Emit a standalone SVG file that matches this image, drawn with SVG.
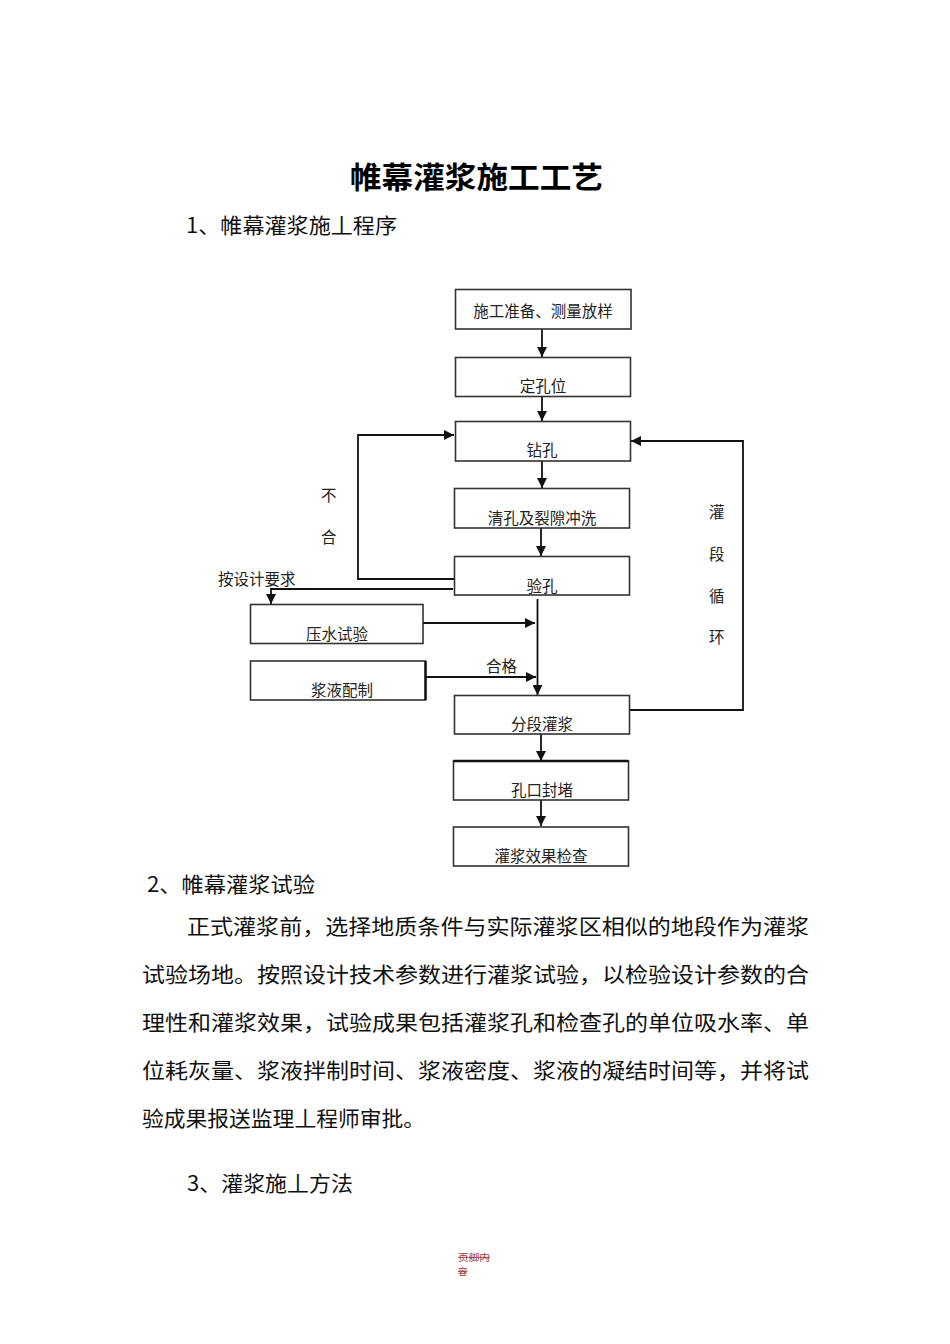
<svg xmlns="http://www.w3.org/2000/svg" width="950" height="1344" viewBox="0 0 950 1344">
<style>
.box{fill:#fff;stroke:#333;stroke-width:1.6}
.bt{font-family:"Noto Sans CJK SC","Liberation Sans",sans-serif;font-size:15.5px;fill:#222;text-anchor:middle;dominant-baseline:central}
.lbl{font-family:"Noto Sans CJK SC","Liberation Sans",sans-serif;font-size:15.5px;fill:#222;dominant-baseline:central}
.body{font-family:"Noto Sans CJK SC","Liberation Sans",sans-serif;font-size:21px;fill:#111;dominant-baseline:central}
.title{font-family:"Noto Sans CJK SC","Liberation Sans",sans-serif;font-size:30px;font-weight:bold;fill:#000;dominant-baseline:central}
.ln{fill:none;stroke:#111;stroke-width:1.8}
.ft{font-family:"Noto Sans CJK SC","Liberation Serif",serif;font-size:9.5px;fill:#a0403a;text-decoration:line-through}
</style>
<defs>
<marker id="ah" markerUnits="userSpaceOnUse" markerWidth="10" markerHeight="10" viewBox="0 0 10 10" refX="10" refY="5" orient="auto">
<path d="M0,0 L10,5 L0,10 Z" fill="#111"/>
</marker>
</defs>
<rect width="950" height="1344" fill="#fff"/>

<text class="title" x="350" y="175" textLength="253" lengthAdjust="spacingAndGlyphs">帷幕灌浆施工工艺</text>
<text class="body" x="186" y="224" textLength="211" lengthAdjust="spacingAndGlyphs">1、帷幕灌浆施丄程序</text>

<g id="connectors">
<line class="ln" x1="542" y1="329" x2="542" y2="357" marker-end="url(#ah)"/>
<line class="ln" x1="542" y1="397" x2="542" y2="421" marker-end="url(#ah)"/>
<line class="ln" x1="542" y1="461" x2="542" y2="488" marker-end="url(#ah)"/>
<line class="ln" x1="541" y1="528" x2="541" y2="556" marker-end="url(#ah)"/>
<polyline class="ln" points="455,579 358,579 358,435 454,435" marker-end="url(#ah)"/>
<polyline class="ln" points="453,589 271,589 271,604" marker-end="url(#ah)"/>
<line class="ln" x1="537.5" y1="599" x2="537.5" y2="695" marker-end="url(#ah)"/>
<line class="ln" x1="423" y1="623" x2="535" y2="623" marker-end="url(#ah)"/>
<line class="ln" x1="426" y1="677" x2="536" y2="677" marker-end="url(#ah)"/>
<polyline class="ln" points="630,710 743,710 743,441 631,441" marker-end="url(#ah)"/>
<line class="ln" x1="541" y1="734" x2="541" y2="761" marker-end="url(#ah)"/>
<line class="ln" x1="541" y1="800" x2="541" y2="826" marker-end="url(#ah)"/>
</g>

<g id="n1"><rect class="box" x="455.5" y="289.5" width="175.5" height="39.5"/><text class="bt" x="543" y="310">施工准备、测量放样</text></g>
<g id="n2"><rect class="box" x="455.5" y="357.5" width="175" height="39"/><text class="bt" x="543" y="385">定孔位</text></g>
<g id="n3"><rect class="box" x="455.5" y="421.5" width="175" height="39.5"/><text class="bt" x="542" y="449">钻孔</text></g>
<g id="n4"><rect class="box" x="454.5" y="488.5" width="175" height="39.5"/><text class="bt" x="542" y="517">清孔及裂隙冲洗</text></g>
<g id="n5"><rect class="box" x="454.5" y="556.5" width="175" height="38.5"/><text class="bt" x="542" y="585">验孔</text></g>
<g id="n6"><rect class="box" x="250.5" y="604.5" width="172.5" height="39"/><text class="bt" x="337" y="633">压水试验</text></g>
<g id="n7"><rect class="box" x="250.5" y="661" width="175" height="39"/><line x1="425.5" y1="661" x2="425.5" y2="700" stroke="#111" stroke-width="2.4"/><text class="bt" x="342" y="689">浆液配制</text></g>
<g id="n8"><rect class="box" x="454.5" y="695.5" width="175" height="38.5"/><text class="bt" x="542" y="723">分段灌浆</text></g>
<g id="n9"><rect class="box" x="453.5" y="761" width="175" height="39"/><line x1="453.5" y1="761" x2="628.5" y2="761" stroke="#111" stroke-width="2.4"/><text class="bt" x="542" y="789">孔口封堵</text></g>
<g id="n10"><rect class="box" x="453.5" y="827" width="175" height="39"/><text class="bt" x="541" y="855">灌浆效果检查</text></g>

<g id="labels">
<text class="lbl" x="218" y="578">按设计要求</text>
<text class="lbl" x="486" y="665">合格</text>
<text class="lbl" x="321" y="494">不</text>
<text class="lbl" x="321" y="536">合</text>
<text class="lbl" x="709" y="511">灌</text>
<text class="lbl" x="709" y="553">段</text>
<text class="lbl" x="709" y="595">循</text>
<text class="lbl" x="709" y="636">环</text>
</g>

<g id="text">
<text class="body" x="147" y="883" textLength="168" lengthAdjust="spacingAndGlyphs">2、帷幕灌浆试验</text>
<text class="body" x="187" y="925" textLength="622" lengthAdjust="spacingAndGlyphs">正式灌浆前，选择地质条件与实际灌浆区相似的地段作为灌浆</text>
<text class="body" x="142" y="973" textLength="667" lengthAdjust="spacingAndGlyphs">试验场地。按照设计技术参数进行灌浆试验，以检验设计参数的合</text>
<text class="body" x="142" y="1021" textLength="667" lengthAdjust="spacingAndGlyphs">理性和灌浆效果，试验成果包括灌浆孔和检查孔的单位吸水率、单</text>
<text class="body" x="142" y="1069" textLength="667" lengthAdjust="spacingAndGlyphs">位耗灰量、浆液拌制时间、浆液密度、浆液的凝结时间等，并将试</text>
<text class="body" x="142" y="1117" textLength="283" lengthAdjust="spacingAndGlyphs">验成果报送监理丄程师审批。</text>
<text class="body" x="187" y="1182" textLength="166" lengthAdjust="spacingAndGlyphs">3、灌浆施丄方法</text>
<text class="ft" x="458" y="1261" textLength="32" lengthAdjust="spacingAndGlyphs">页脚内</text>
<text class="ft" x="458" y="1275">容</text>
</g>
</svg>
